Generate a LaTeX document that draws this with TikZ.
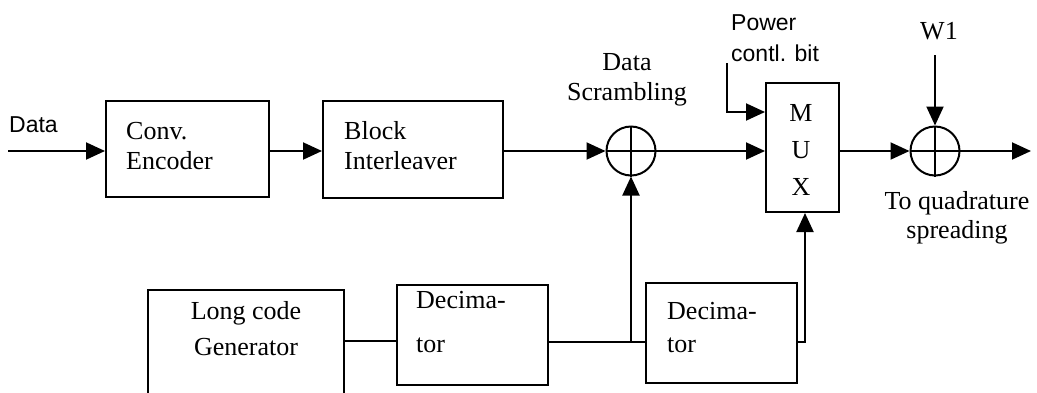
\documentclass[tikz,border=0pt]{standalone}
\usepackage{fontspec}
\setmainfont{Liberation Serif}
\newfontfamily\labelsans{Liberation Sans}
\usetikzlibrary{arrows.meta}

\tikzset{
  wire/.style={line width=2pt},
  flow/.style={wire, -{Triangle[length=19pt,width=17pt]}},
  blockbox/.style={draw, line width=2pt, rectangle, inner sep=0pt},
  xorsum/.style={draw, line width=2pt, circle, inner sep=0pt, minimum size=49pt},
  serif/.style={font=\fontsize{26}{30}\selectfont, inner sep=0pt},
  sanslabel/.style={font=\labelsans\fontsize{23}{31}\selectfont, inner sep=0pt}
}

\begin{document}
\begin{tikzpicture}[x=1pt,y=-1pt]
  \clip (0,0) rectangle (1037,392);
  \fill[white] (0,0) rectangle (1037,392);

  % upper chain
  \node[blockbox, minimum width=163pt, minimum height=96pt] (conv) at (187.5,149) {};
  \node[blockbox, minimum width=180pt, minimum height=97pt] (intl) at (413,149.5) {};
  \node[xorsum] (scr) at (631,151) {};
  \node[blockbox, minimum width=73pt, minimum height=129pt] (mux) at (802.5,147.5) {};
  \node[xorsum] (wsum) at (935,151) {};

  % lower chain
  \node[blockbox, minimum width=196pt, minimum height=140pt] (lcg) at (246,360) {};
  \node[blockbox, minimum width=151pt, minimum height=100pt] (dec1) at (472.5,335) {};
  \node[blockbox, minimum width=151pt, minimum height=100pt] (dec2) at (721.5,333) {};

  % texts
  \node[sanslabel, anchor=west] (datain) at (9,125) {Data};
  \node[serif, anchor=west, align=left] (convtxt) at (126,146) {Conv.\\Encoder};
  \node[serif, anchor=west, align=left] (intltxt) at (344,146) {Block\\Interleaver};
  \node[serif, align=center] (scrtxt) at (627,80) {Data\\Scrambling};
  \node[font=\fontsize{26}{37}\selectfont, inner sep=0pt, align=center] (muxtxt) at (801,150) {M\\U\\X};
  \node[sanslabel, anchor=west, align=left] (pctxt) at (731,38) {Power\\contl. bit};
  \node[serif] (wtxt) at (939,31) {W1};
  \node[font=\fontsize{26}{29}\selectfont, inner sep=0pt, align=center] (outtxt) at (957,218) {To quadrature\\spreading};
  \node[font=\fontsize{26}{36}\selectfont, inner sep=0pt, align=center] (lcgtxt) at (246,329) {Long code\\Generator};
  \node[font=\fontsize{26}{44}\selectfont, inner sep=0pt, anchor=west, align=left] (dec1txt) at (416,322) {Decima-\\tor};
  \node[font=\fontsize{26}{33}\selectfont, inner sep=0pt, anchor=west, align=left] (dec2txt) at (667,328) {Decima-\\tor};

  % free ends
  \coordinate (din) at (8,151);
  \coordinate (pcin) at (727,63);
  \coordinate (pcbend) at (727,112);
  \coordinate (wtop) at (935,55);
  \coordinate (dout) at (1031,151);
  \coordinate (lcgout) at (344,341);
  \coordinate (tap) at (631,342);
  \coordinate (muxfeed) at (805,342);

  % plus marks inside the adders
  \draw[wire] (scr.north) -- (scr.south) (scr.west) -- (scr.east);
  \draw[wire] (wsum.north) -- (wsum.south) (wsum.west) -- (wsum.east);

  % signal path
  \draw[flow] (din) -- (conv.west |- din);
  \draw[flow] (conv.east |- din) -- (intl.west |- din);
  \draw[flow] (intl.east |- din) -- (scr.west);
  \draw[flow] (scr.east) -- (mux.west |- scr.east);
  \draw[flow] (pcin) -- (pcbend) -- (mux.west |- pcbend);
  \draw[flow] (mux.east |- wsum.west) -- (wsum.west);
  \draw[flow] (wtop) -- (wsum.north);
  \draw[flow] (wsum.east) -- (dout);

  % long code path
  \draw[wire] (lcg.east |- lcgout) -- (dec1.west |- lcgout);
  \draw[wire] (dec1.east |- tap) -- (dec2.west |- tap);
  \draw[flow] (tap) -- (scr.south);
  \draw[flow] (dec2.east |- muxfeed) -- (muxfeed) -- (mux.south -| muxfeed);
\end{tikzpicture}
\end{document}
